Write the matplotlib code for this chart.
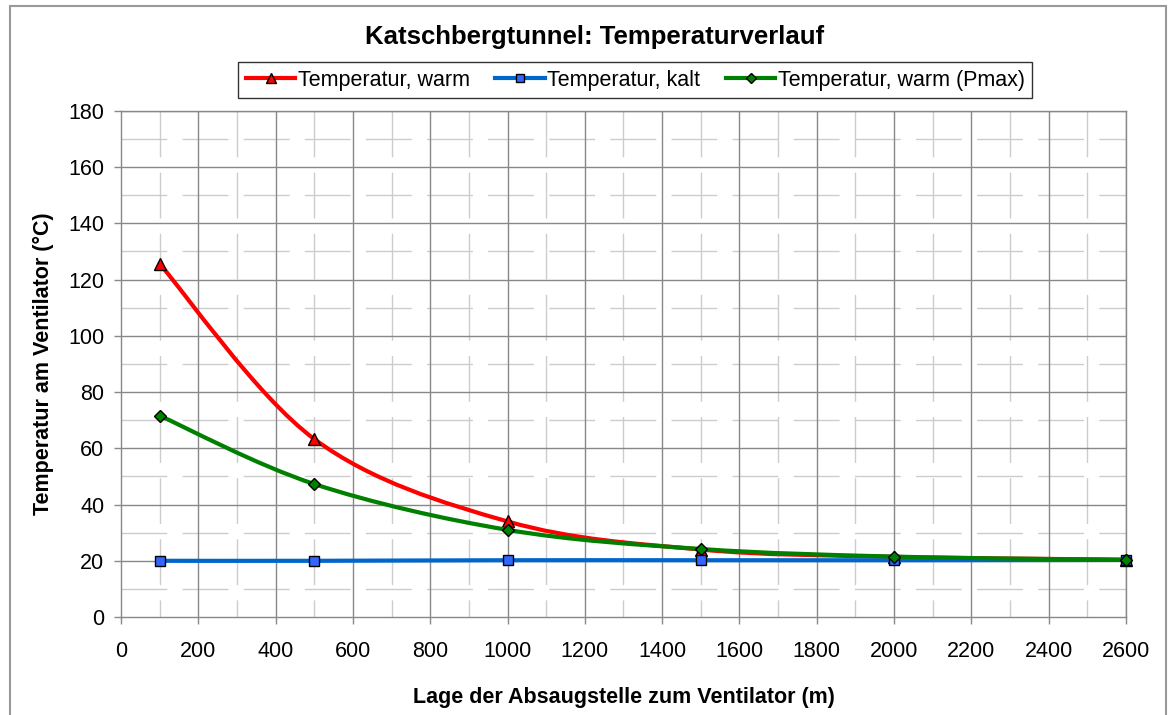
import numpy as np
import matplotlib.pyplot as plt
from matplotlib.path import Path
from matplotlib.patches import PathPatch, Rectangle
from matplotlib.lines import Line2D

plt.rcParams['font.family'] = ['Liberation Sans', 'DejaVu Sans']

# data
lage = [100, 500, 1000, 1500, 2000, 2600]
temp_warm = [125.6, 63.3, 34.0, 24.0, 21.4, 20.4]
temp_kalt = [20.0, 20.0, 20.2, 20.2, 20.2, 20.3]
temp_warm_pmax = [71.6, 47.3, 31.0, 24.2, 21.5, 20.3]

labels = ['Temperatur, warm', 'Temperatur, kalt', 'Temperatur, warm (Pmax)']
line_colors = ['#ff0000', '#0066cc', '#008000']
face_colors = ['#ff0000', '#3366ff', '#008000']
markers = ['^', 's', 'D']
msizes = [8, 7, 6]


def smooth_path(x, y):
    # Excel-style smoothed line: Catmull-Rom converted to cubic Bezier
    p = np.column_stack([x, y]).astype(float)
    ext = np.vstack([p[0], p, p[-1]])
    verts = [p[0]]
    codes = [Path.MOVETO]
    for i in range(len(p) - 1):
        p0, p1, p2, p3 = ext[i], ext[i + 1], ext[i + 2], ext[i + 3]
        c1 = p1 + (p2 - p0) / 6.0
        c2 = p2 - (p3 - p1) / 6.0
        verts += [c1, c2, p2]
        codes += [Path.CURVE4] * 3
    return Path(verts, codes)


fig = plt.figure(figsize=(11.7, 7.15), dpi=100)
ax = fig.add_axes([0.1034, 0.137, 0.859, 0.708])

ax.set_xlim(0, 2600)
ax.set_ylim(0, 180)

# grid
for x in range(100, 2600, 200):
    ax.plot([x, x], [180, 0], color='#cccccc', lw=1, ls=(0, (33, 11)), zorder=1)
for y in range(10, 180, 20):
    ax.plot([0, 2600], [y, y], color='#cccccc', lw=1, ls=(0, (33, 11)), zorder=1)
for x in range(200, 2601, 200):
    ax.axvline(x, color='#888888', lw=1, zorder=1.5)
for y in range(20, 181, 20):
    ax.axhline(y, color='#888888', lw=1, zorder=1.5)

series = [temp_warm, temp_kalt, temp_warm_pmax]
handles = []
for i, ys in enumerate(series):
    patch = PathPatch(smooth_path(lage, ys), facecolor='none',
                      edgecolor=line_colors[i], lw=3, zorder=3 + i,
                      capstyle='round')
    ax.add_patch(patch)
    ax.plot(lage, ys, ls='none', marker=markers[i], ms=msizes[i],
            mfc=face_colors[i], mec='black', mew=1, zorder=3.5 + i,
            clip_on=False)
    handles.append(Line2D([], [], color=line_colors[i], lw=3,
                          marker=markers[i], ms=msizes[i] - 1,
                          mfc=face_colors[i], mec='black', mew=1))

ax.set_xticks(range(0, 2601, 200))
ax.set_yticks(range(0, 181, 20))
ax.tick_params(axis='both', direction='out', length=5, width=1,
               color='#888888', labelsize=15.5)
ax.tick_params(axis='x', pad=12)
ax.tick_params(axis='y', pad=7)
for s in ax.spines.values():
    s.set_color('#888888')
    s.set_linewidth(1)

leg = fig.legend(handles, labels, loc='center', bbox_to_anchor=(0.543, 0.888),
                 ncol=3, fontsize=15.5, frameon=True, fancybox=False,
                 handlelength=2.3, handletextpad=0.1, columnspacing=1.2,
                 borderpad=0.35, borderaxespad=0, edgecolor='black')
leg.get_frame().set_linewidth(1)

fig.text(0.508, 0.948, 'Katschbergtunnel: Temperaturverlauf', ha='center',
         va='center', fontsize=18.5, fontweight='bold')
fig.text(0.533, 0.025, 'Lage der Absaugstelle zum Ventilator (m)', ha='center',
         va='center', fontsize=15.5, fontweight='bold')
fig.text(0.0368, 0.4916, 'Temperatur am Ventilator (°C)', ha='center',
         va='center', rotation=90, fontsize=15.5, fontweight='bold')

# outer chart frame
fig.patches.append(Rectangle((10 / 1170, -0.02), 1156 / 1170, 1.02 - 6 / 715,
                             transform=fig.transFigure, fill=False,
                             edgecolor='#999999', lw=1.5))

fig.savefig('out.png', dpi=100)
